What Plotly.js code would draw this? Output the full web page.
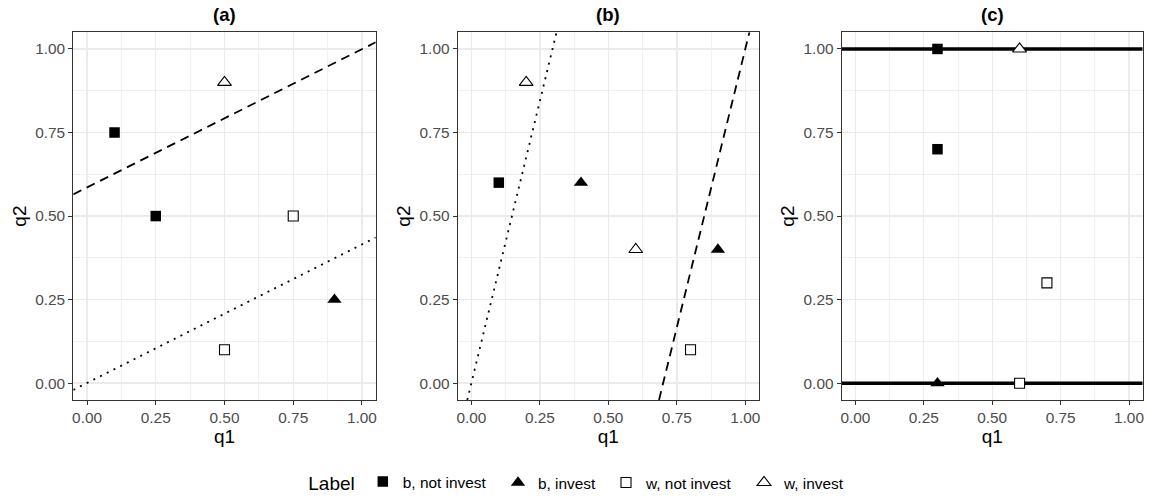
<!DOCTYPE html>
<html>
<head>
<meta charset="utf-8">
<script src="https://cdn.plot.ly/plotly-3.0.1.min.js"></script>
<style>html,body{margin:0;padding:0;background:#fff}#chart{width:1151px;height:500px}</style>
</head>
<body>
<div id="chart"></div>
<script>
// ---- data ----
const categories = ["b, not invest", "b, invest", "w, not invest", "w, invest"];
const panelTitles = ["(a)", "(b)", "(c)"];
const tickVals = [0, 0.25, 0.5, 0.75, 1];
const tickText = ["0.00", "0.25", "0.50", "0.75", "1.00"];

// panel (a) points
const aQ1 = [0.1, 0.25, 0.9, 0.75, 0.5, 0.5];
const aQ2 = [0.75, 0.5, 0.25, 0.5, 0.1, 0.9];
const aLabel = ["b, not invest", "b, not invest", "b, invest", "w, not invest", "w, not invest", "w, invest"];
// panel (b) points
const bQ1 = [0.1, 0.4, 0.9, 0.8, 0.2, 0.6];
const bQ2 = [0.6, 0.6, 0.4, 0.1, 0.9, 0.4];
const bLabel = ["b, not invest", "b, invest", "b, invest", "w, not invest", "w, invest", "w, invest"];
// panel (c) points
const cQ1 = [0.3, 0.3, 0.3, 0.6, 0.7, 0.6];
const cQ2 = [1.0, 0.7, 0.0, 0.0, 0.3, 1.0];
const cLabel = ["b, not invest", "b, not invest", "b, invest", "w, not invest", "w, not invest", "w, invest"];

// boundary lines (endpoints)
const aDashQ1 = [-0.05, 1.05], aDashQ2 = [0.565, 1.02];
const aDotQ1 = [-0.05, 1.05], aDotQ2 = [-0.02, 0.436];
const bDotQ1 = [-0.015, 0.311], bDotQ2 = [-0.05, 1.05];
const bDashQ1 = [0.685, 1.015], bDashQ2 = [-0.05, 1.05];
const cLowQ1 = [-0.05, 1.05], cLowQ2 = [0, 0];
const cHighQ1 = [-0.05, 1.05], cHighQ2 = [1, 1];

// ---- styles ----
const FONT = "Liberation Sans, Arial, sans-serif";
const markerStyle = {
  "b, not invest": {symbol: "square", size: 10.5, color: "#000000", line: {color: "#000000", width: 0}},
  "b, invest": {symbol: "triangle-up", size: 12.5, color: "#000000", line: {color: "#000000", width: 0}},
  "w, not invest": {symbol: "square", size: 10, color: "#FFFFFF", line: {color: "#000000", width: 1.1}},
  "w, invest": {symbol: "triangle-up", size: 12, color: "#FFFFFF", line: {color: "#000000", width: 1.1}}
};
const legendIds = {"b, not invest": "legend", "b, invest": "legend2", "w, not invest": "legend3", "w, invest": "legend4"};
// legend symbol centres (px) used to place each one-item legend
const legendSymbolPx = [379, 518, 626, 764];

const traces = [];
function lineTrace(x, y, xa, ya, dash, width) {
  traces.push({x: x, y: y, xaxis: xa, yaxis: ya, type: "scatter", mode: "lines",
    line: {color: "#000000", width: width, dash: dash}, showlegend: false, hoverinfo: "skip"});
}
lineTrace(aDashQ1, aDashQ2, "x", "y", "9px,6px", 1.8);
lineTrace(aDotQ1, aDotQ2, "x", "y", "2px,5.5px", 1.8);
lineTrace(bDotQ1, bDotQ2, "x2", "y2", "2px,5.5px", 1.8);
lineTrace(bDashQ1, bDashQ2, "x2", "y2", "9px,6px", 1.8);
lineTrace(cLowQ1, cLowQ2, "x3", "y3", "solid", 3.4);
lineTrace(cHighQ1, cHighQ2, "x3", "y3", "solid", 3.4);

const panels = [[aQ1, aQ2, aLabel, "x", "y"], [bQ1, bQ2, bLabel, "x2", "y2"], [cQ1, cQ2, cLabel, "x3", "y3"]];
panels.forEach(function (p, pi) {
  categories.forEach(function (cat) {
    const xs = [], ys = [];
    p[2].forEach(function (l, i) { if (l === cat) { xs.push(p[0][i]); ys.push(p[1][i]); } });
    traces.push({x: xs, y: ys, xaxis: p[3], yaxis: p[4], type: "scatter", mode: "markers",
      name: cat, legendgroup: cat, legend: legendIds[cat], showlegend: pi === 0,
      marker: markerStyle[cat], cliponaxis: false});
  });
});

// ---- layout ----
const W = 1151, H = 500;
const xDomains = [[73.3 / W, 375.7 / W], [457.7 / W, 759 / W], [841.7 / W, 1142.7 / W]];
const yDomain = [1 - 400.7 / H, 1 - 32.3 / H];

function axisBase(title) {
  return {
    range: [-0.05, 1.05], tickmode: "array", tickvals: tickVals, ticktext: tickText,
    showgrid: true, gridcolor: "#EBEBEB", gridwidth: 1.4,
    minor: {tickmode: "array", tickvals: [0.125, 0.375, 0.625, 0.875], showgrid: true, gridcolor: "#EBEBEB", gridwidth: 0.8, ticks: ""},
    zeroline: false, showline: true, mirror: true, linecolor: "#333333", linewidth: 1.1,
    ticks: "outside", ticklen: 4, tickwidth: 1, tickcolor: "#333333",
    tickfont: {family: FONT, size: 15.4, color: "#4D4D4D"},
    title: {text: title, font: {family: FONT, size: 19, color: "#000000"}, standoff: 3},
    automargin: false, fixedrange: true
  };
}

function legendAt(i, withTitle) {
  const lg = {
    orientation: "h", xanchor: "left", y: 0.034, yanchor: "middle",
    font: {family: FONT, size: 15.4, color: "#000000"},
    itemwidth: 30, bgcolor: "rgba(0,0,0,0)", borderwidth: 0
  };
  if (withTitle) {
    lg.title = {text: "Label", side: "left", font: {family: FONT, size: 19, color: "#000000"}};
    lg.x = 306.3 / W;
  } else {
    lg.x = (legendSymbolPx[i] - 20) / W;
  }
  return lg;
}

const layout = {
  width: W, height: H,
  margin: {l: 0, r: 0, t: 0, b: 0, pad: 0},
  paper_bgcolor: "#FFFFFF", plot_bgcolor: "#FFFFFF",
  font: {family: FONT, color: "#000000"},
  showlegend: true,
  legend: legendAt(0, true),
  legend2: legendAt(1, false),
  legend3: legendAt(2, false),
  legend4: legendAt(3, false),
  annotations: panelTitles.map(function (t, i) {
    return {text: "<b>" + t + "</b>", xref: "paper", yref: "paper",
      x: (xDomains[i][0] + xDomains[i][1]) / 2, y: 1 - 14.5 / H,
      xanchor: "center", yanchor: "middle", showarrow: false,
      font: {family: FONT, size: 18.5, color: "#000000"}};
  })
};
["", "2", "3"].forEach(function (s, i) {
  const xa = axisBase("q1"); xa.domain = xDomains[i]; xa.anchor = "y" + s;
  const ya = axisBase("q2"); ya.domain = yDomain; ya.anchor = "x" + s;
  layout["xaxis" + s] = xa;
  layout["yaxis" + s] = ya;
});

Plotly.newPlot("chart", traces, layout, {staticPlot: true, displayModeBar: false});
</script>
</body>
</html>
